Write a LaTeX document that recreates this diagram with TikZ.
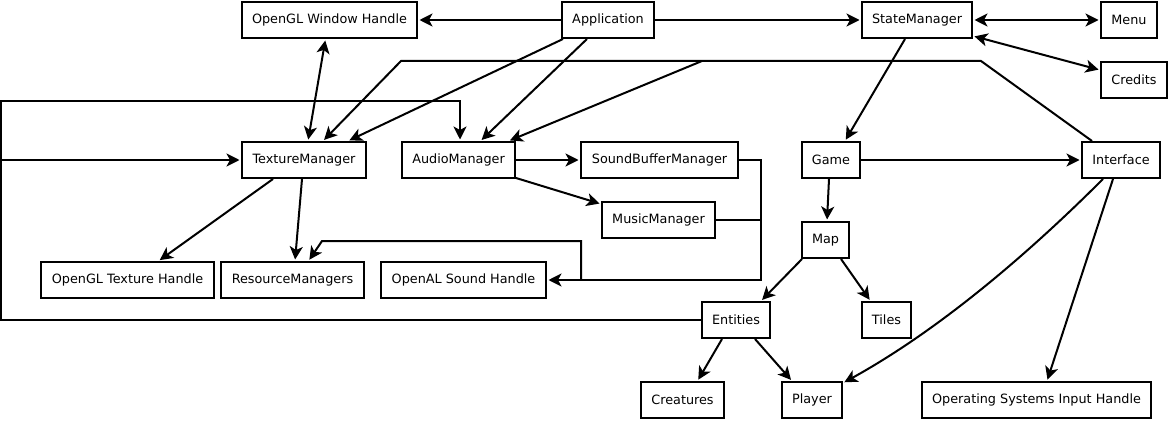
\documentclass[tikz,border=0pt]{standalone}
\usepackage{fontspec}
\setmainfont{DejaVu Sans}
\usetikzlibrary{arrows.meta}

\begin{document}
\begin{tikzpicture}[
  x=1pt, y=-1pt,
  box/.style={draw, line width=2.4pt, minimum height=35.6pt, inner sep=0pt, font=\fontsize{12.8}{15}\selectfont},
  wire/.style={line width=2pt},
  arrow/.style={wire, -{Stealth[length=13pt, width=13pt, inset=3.5pt]}, shorten >=1.5pt},
  dblarrow/.style={wire, {Stealth[length=13pt, width=13pt, inset=3.5pt]}-{Stealth[length=13pt, width=13pt, inset=3.5pt]}, shorten >=1.5pt, shorten <=1.5pt}
]
\useasboundingbox (0,0) rectangle (1169,420);
\node[box, minimum width=174.6pt] (glwin) at (329.5,20) {OpenGL Window Handle};
\node[box, minimum width=91.6pt] (app) at (608,20) {Application};
\node[box, minimum width=109.6pt] (state) at (917,20) {StateManager};
\node[box, minimum width=55.6pt] (menu) at (1129,20) {Menu};
\node[box, minimum width=65.6pt] (credits) at (1134,80) {Credits};
\node[box, minimum width=123.6pt] (texmgr) at (304,160) {TextureManager};
\node[box, minimum width=112.6pt] (audiomgr) at (458.5,160) {AudioManager};
\node[box, minimum width=156.6pt] (sbmgr) at (659.5,160) {SoundBufferManager};
\node[box, minimum width=57.6pt] (game) at (831,160) {Game};
\node[box, minimum width=77.6pt] (iface) at (1121,160) {Interface};
\node[box, minimum width=112.6pt] (musicmgr) at (658.5,220) {MusicManager};
\node[box, minimum width=46.6pt] (map) at (825.5,240) {Map};
\node[box, minimum width=172.6pt] (gltex) at (127.5,280) {OpenGL Texture Handle};
\node[box, minimum width=142.6pt] (resmgr) at (292.5,280) {ResourceManagers};
\node[box, minimum width=164.6pt] (alsound) at (463.5,280) {OpenAL Sound Handle};
\node[box, minimum width=67.6pt] (entities) at (736,320) {Entities};
\node[box, minimum width=48.6pt] (tiles) at (886.5,320) {Tiles};
\node[box, minimum width=82.6pt] (creatures) at (682.5,400) {Creatures};
\node[box, minimum width=59.6pt] (player) at (812,400) {Player};
\node[box, minimum width=228.6pt] (osinput) at (1036.5,400) {Operating Systems Input Handle};

\coordinate (busl) at (401,61);
\coordinate (busm) at (702,61);
\coordinate (busr) at (981,61);
\coordinate (loop) at (1,101);
\coordinate (sndr) at (761,280);
\coordinate (sndm) at (581,280);
\coordinate (resl) at (322,241);

\draw[arrow] (app) -- (glwin);
\draw[arrow] (app) -- (state);
\draw[dblarrow] (state) -- (menu);
\draw[dblarrow] ([yshift=3pt]state.south east) -- ([yshift=10pt]credits.west);
\draw[dblarrow] ([xshift=-4pt]glwin.south) -- ([xshift=4pt]texmgr.north);
\draw[arrow] ([xshift=2pt]app.south west) -- ([xshift=44pt]texmgr.north);
\draw[arrow] ([xshift=-21pt]app.south) -- ([xshift=22pt]audiomgr.north);
\draw[arrow] ([xshift=-29pt]iface.north) -- (busr) -- (busl) -- ([xshift=19pt]texmgr.north);
\draw[arrow] (busm) -- ([xshift=50pt]audiomgr.north);
\draw[arrow] (entities.west) -| (loop) -| ([xshift=1.5pt]audiomgr.north);
\draw[arrow] (loop |- texmgr.west) -- (texmgr.west);
\draw[arrow] (audiomgr) -- (sbmgr);
\draw[arrow] ([yshift=1pt]audiomgr.south east) -- ([yshift=16pt]musicmgr.west);
\draw[arrow] (sbmgr.east) -| (sndr) -- (alsound.east);
\draw[wire] (musicmgr.east) -- (sndr |- musicmgr.east);
\draw[arrow] (sndm) |- (resl) -- ([xshift=16pt]resmgr.north);
\draw[arrow] ([xshift=-31pt]texmgr.south) -- ([xshift=31pt]gltex.north);
\draw[arrow] ([xshift=-2pt]texmgr.south) -- ([xshift=2.5pt]resmgr.north);
\draw[arrow] ([xshift=-12pt]state.south) -- ([xshift=14pt]game.north);
\draw[arrow] (game) -- (iface);
\draw[arrow] ([xshift=-2pt]game.south) -- ([xshift=1.5pt]map.north);
\draw[arrow] ([xshift=1pt]map.south west) -- ([xshift=-10pt]entities.north east);
\draw[arrow] ([xshift=-9pt]map.south east) -- ([xshift=-16pt]tiles.north);
\draw[arrow] ([xshift=-14pt]entities.south) -- ([xshift=15pt]creatures.north);
\draw[arrow] ([xshift=19pt]entities.south) -- ([xshift=-20pt]player.north);
\draw[arrow] ([xshift=-18pt]iface.south) .. controls +(-63,63) and +(105,-58) .. ([yshift=17pt]player.east);
\draw[arrow] ([xshift=-8pt]iface.south) -- ([xshift=10.5pt]osinput.north);
\end{tikzpicture}
\end{document}
